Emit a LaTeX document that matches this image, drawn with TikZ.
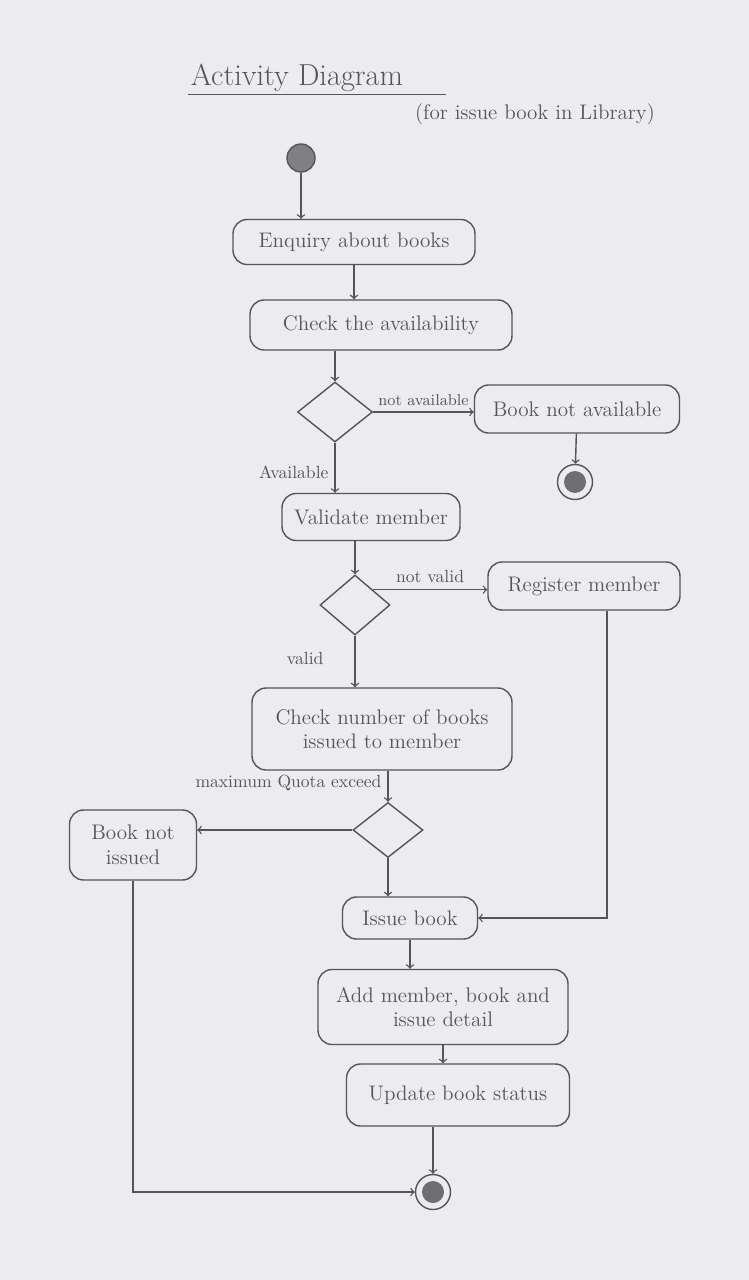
\documentclass[tikz,border=0pt]{standalone}
\usepackage{amsmath}
\usepackage{amssymb}
\usetikzlibrary{positioning,shapes.geometric}
\definecolor{paper}{RGB}{236,236,240}
\definecolor{pencil}{RGB}{85,85,88}
\tikzset{
  act/.style={draw=pencil, text=pencil, rounded corners=8pt, align=center, font=\large, inner sep=2pt},
  dec/.style={draw=pencil, diamond, inner sep=0pt},
  flow/.style={->, draw=pencil, thick},
  lbl/.style={text=pencil, font=\normalsize},
  startnode/.style={circle, draw=pencil, fill=pencil!75, minimum size=0.56cm},
  endnode/.style={circle, draw=pencil, minimum size=0.7cm,
    path picture={\fill[pencil!85] (path picture bounding box.center) circle (0.22cm);}}
}

\begin{document}
\begin{tikzpicture}[x=0.02cm, y=-0.02cm, thick]
  \fill[paper] (0,0) rectangle (749,1280);
  \useasboundingbox (0,0) rectangle (749,1280);

  % title
  \node[text=pencil, font=\LARGE, inner sep=1pt] (title) at (297,78) {Activity Diagram};
  \draw[pencil] (title.south west) -- ([xshift=0.8cm]title.south east);
  \node[lbl, font=\large] (subtitle) at (535,114) {(for issue book in Library)};

  % activities
  \node[startnode] (start) at (301,158) {};
  \node[act, minimum width=4.84cm, minimum height=0.9cm] (enquiry) at (354,242) {Enquiry about books};
  \node[act, minimum width=5.24cm, minimum height=1.0cm] (avail) at (381,325) {Check the availability};
  \node[dec, minimum width=1.5cm, minimum height=1.2cm] (dec1) at (335,412) {};
  \node[act, minimum width=4.1cm, minimum height=0.96cm] (notavail) at (577,409) {Book not available};
  \node[endnode] (end1) at (575,482) {};
  \node[act, minimum width=3.56cm, minimum height=0.94cm] (validate) at (371,517) {Validate member};
  \node[dec, minimum width=1.4cm, minimum height=1.2cm] (dec2) at (355,605) {};
  \node[act, minimum width=3.84cm, minimum height=0.96cm] (register) at (584,586) {Register member};
  \node[act, minimum width=5.2cm, minimum height=1.64cm] (checknum) at (382,729) {Check number of books\\ issued to member};
  \node[dec, minimum width=1.4cm, minimum height=1.1cm] (dec3) at (388,830) {};
  \node[act, minimum width=2.54cm, minimum height=1.4cm] (notissued) at (133,845) {Book not\\ issued};
  \node[act, minimum width=2.7cm, minimum height=0.84cm] (issue) at (410,918) {Issue book};
  \node[act, minimum width=5.0cm, minimum height=1.5cm] (adddet) at (443,1007) {Add member, book and\\ issue detail};
  \node[act, minimum width=4.46cm, minimum height=1.24cm] (update) at (458,1095) {Update book status};
  \node[endnode] (end2) at (433,1192) {};

  % flows
  \draw[flow] (start) -- (start |- enquiry.north);
  \draw[flow] (enquiry) -- (enquiry |- avail.north);
  \draw[flow] (avail.south -| dec1) -- (dec1);
  \draw[flow] (dec1) -- (dec1 -| notavail.west) node[lbl, font=\small, midway, above] {not available};
  \draw[flow] (notavail) -- (end1);
  \draw[flow] (dec1) -- (dec1 |- validate.north) node[lbl, pos=0.6, left] {Available};
  \draw[flow] (validate.south -| dec2) -- (dec2);
  \draw[flow] (dec2.north east) -- (dec2.north east -| register.west) node[lbl, midway, above] {not valid};
  \draw[flow] (dec2) -- (dec2 |- checknum.north) node[lbl, pos=0.45, left=0.5cm] {valid};
  \draw[flow] (checknum.south -| dec3) -- (dec3) node[lbl, pos=0.4, left] {maximum Quota exceed};
  \draw[flow] (dec3.west) -- (dec3.west -| notissued.east);
  \draw[flow] (dec3) -- (dec3 |- issue.north);
  \draw[flow] ([xshift=0.46cm]register.south) |- (issue);
  \draw[flow] (issue) -- (issue |- adddet.north);
  \draw[flow] (adddet) -- (adddet |- update.north);
  \draw[flow] (update.south -| end2) -- (end2);
  \draw[flow] (notissued) |- (end2);
\end{tikzpicture}
\end{document}
